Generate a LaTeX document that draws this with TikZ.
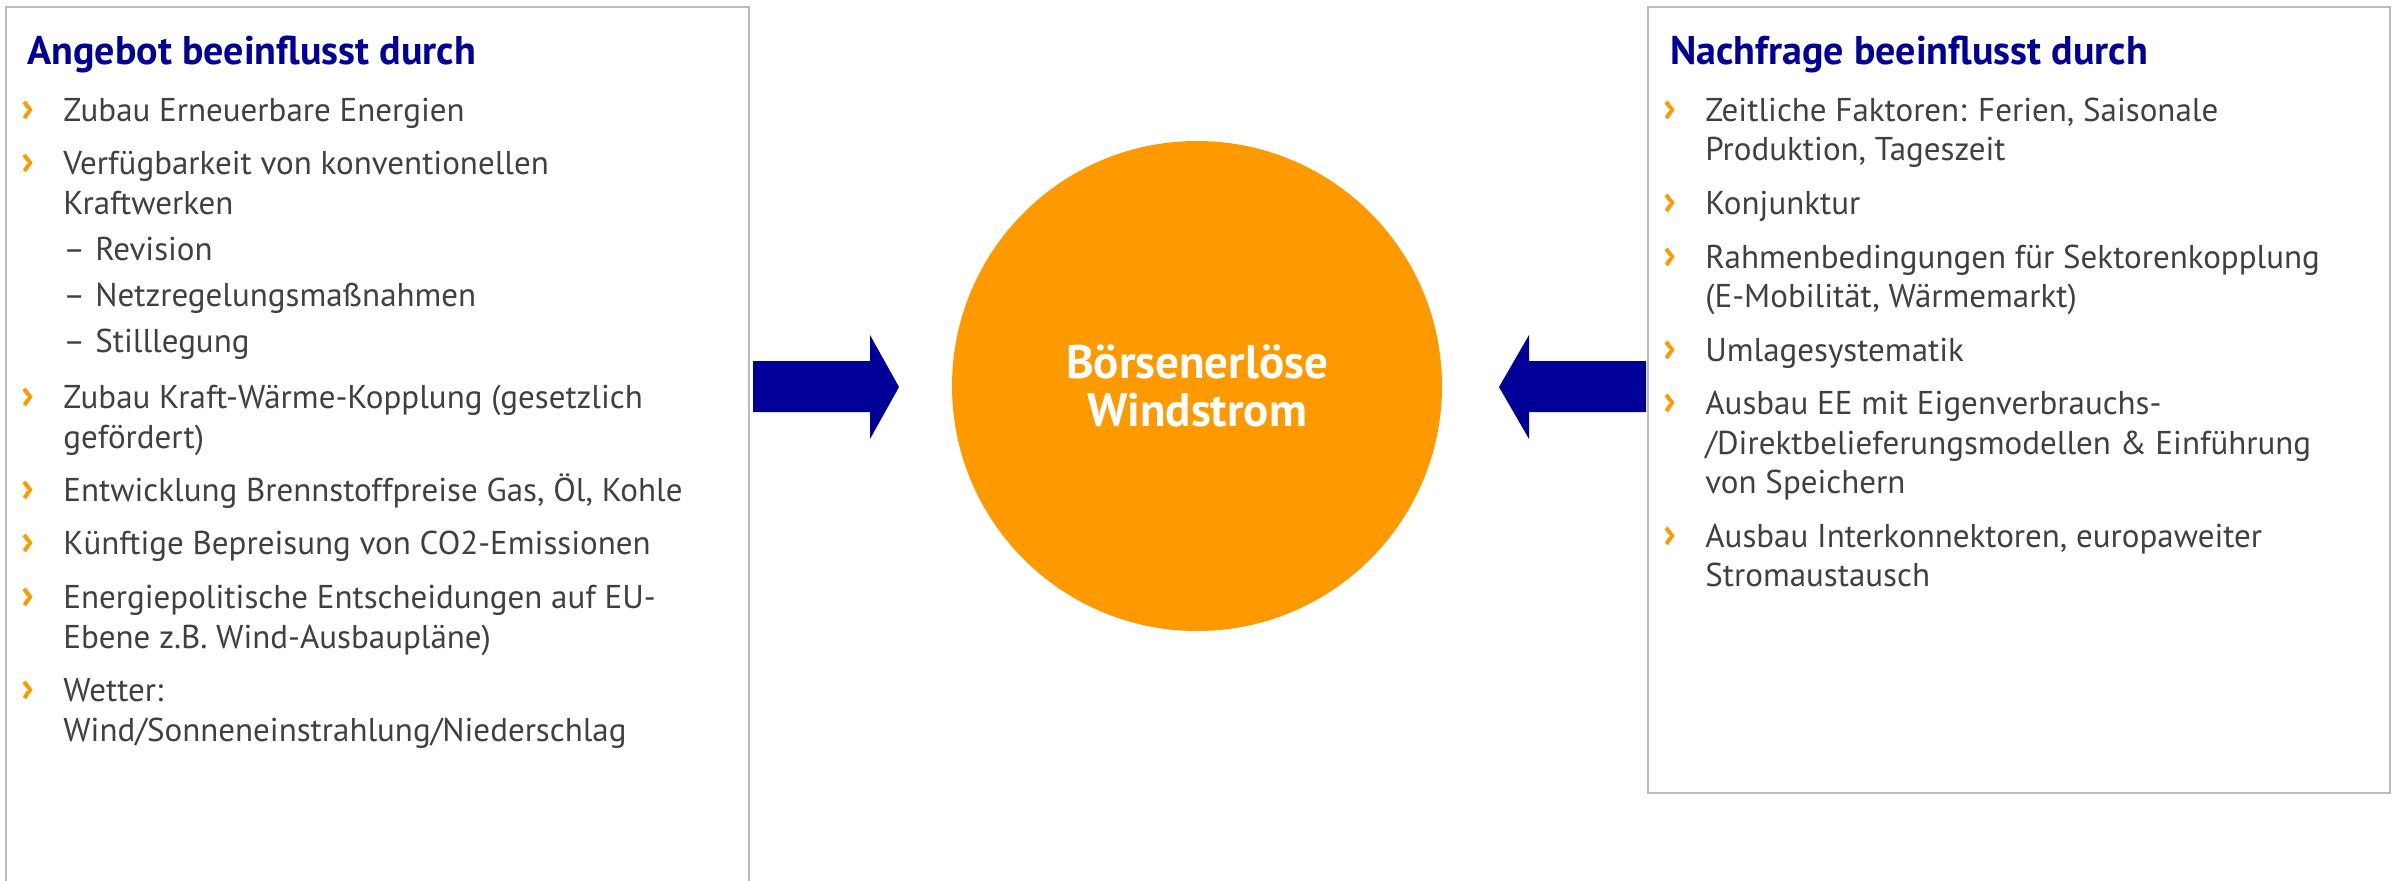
\documentclass[tikz,border=0pt]{standalone}
\usepackage{fontspec}
\setmainfont{PT Sans}
\usepackage{tikz}

\definecolor{dunkelblau}{HTML}{000099}
\definecolor{borange}{HTML}{FF9900}
\definecolor{txtgrau}{HTML}{404040}
\definecolor{rahmengrau}{HTML}{BBBBBB}

\newcommand{\bl}{\rule{0pt}{15.5pt}\makebox[21pt][l]{\textcolor{borange}{\fontsize{21}{19.75}\selectfont\textbf{›}}}}
\newcommand{\ein}{\hspace*{21pt}}
\newcommand{\strich}{\makebox[16pt][l]{–}}

\tikzset{
  rahmen/.style={draw=rahmengrau, line width=1pt, inner sep=0pt, anchor=north west},
  titel/.style={anchor=base west, inner sep=0pt, text=dunkelblau, font=\fontsize{20}{24}\selectfont\bfseries},
  punkt/.style={anchor=north west, inner sep=0pt, align=left, text=txtgrau, font=\fontsize{16.5}{19.75}\selectfont},
  kreis/.style={circle, fill=borange, minimum size=245pt, inner sep=0pt, align=center, text=white, font=\fontsize{23.5}{24}\selectfont\bfseries},
  pfeil/.style={fill=dunkelblau}
}

\begin{document}
\begin{tikzpicture}[x=0.5pt,y=-0.5pt]
\useasboundingbox (0,0) rectangle (2397,880);

% Kaesten
\node[rahmen, minimum width=371.5pt, minimum height=450pt] (abox) at (5,6) {};
\node[rahmen, minimum width=371pt, minimum height=393pt] (nbox) at (1647,6) {};

% Angebot
\node[titel] (atitel) at (27,64) {Angebot beeinflusst durch};
\node[punkt] (a1) at (21,90) {\bl Zubau Erneuerbare Energien};
\node[punkt] (a2) at (21,143.5) {\bl Verfügbarkeit von konventionellen\\
  \ein Kraftwerken\\[3.25pt]
  \ein\strich Revision\\[3.25pt]
  \ein\strich Netzregelungsmaßnahmen\\[3.25pt]
  \ein\strich Stilllegung};
\node[punkt] (a3) at (21,377.5) {\bl Zubau Kraft-Wärme-Kopplung (gesetzlich\\ \ein gefördert)};
\node[punkt] (a4) at (21,470.5) {\bl Entwicklung Brennstoffpreise Gas, Öl, Kohle};
\node[punkt] (a5) at (21,523.5) {\bl Künftige Bepreisung von CO2-Emissionen};
\node[punkt] (a6) at (21,577.5) {\bl Energiepolitische Entscheidungen auf EU-\\ \ein Ebene z.B. Wind-Ausbaupläne)};
\node[punkt] (a7) at (21,670.5) {\bl Wetter:\\ \ein Wind/Sonneneinstrahlung/Niederschlag};

% Nachfrage
\node[titel] (ntitel) at (1670,64) {Nachfrage beeinflusst durch};
\node[punkt] (n1) at (1663,90) {\bl Zeitliche Faktoren: Ferien, Saisonale\\ \ein Produktion, Tageszeit};
\node[punkt] (n2) at (1663,183.5) {\bl Konjunktur};
\node[punkt] (n3) at (1663,237) {\bl Rahmenbedingungen für Sektorenkopplung\\ \ein (E-Mobilität, Wärmemarkt)};
\node[punkt] (n4) at (1663,330) {\bl Umlagesystematik};
\node[punkt] (n5) at (1663,383.5) {\bl Ausbau EE mit Eigenverbrauchs-\\
  \ein /Direktbelieferungsmodellen \& Einführung\\
  \ein von Speichern};
\node[punkt] (n6) at (1663,516) {\bl Ausbau Interkonnektoren, europaweiter\\ \ein Stromaustausch};

% Mitte
\node[kreis] (boerse) at (1197,386) {Börsenerlöse\\Windstrom};

% Pfeile
\fill[pfeil, shift={(abox.east |- boerse.center)}] (3,-25) -- (120,-25) -- (120,-51) -- (149,1)
  -- (120,53) -- (120,26) -- (3,26) -- cycle;
\fill[pfeil, shift={(nbox.west |- boerse.center)}] (-1,-25) -- (-118,-25) -- (-118,-51) -- (-148,1)
  -- (-118,53) -- (-118,26) -- (-1,26) -- cycle;

\end{tikzpicture}
\end{document}
